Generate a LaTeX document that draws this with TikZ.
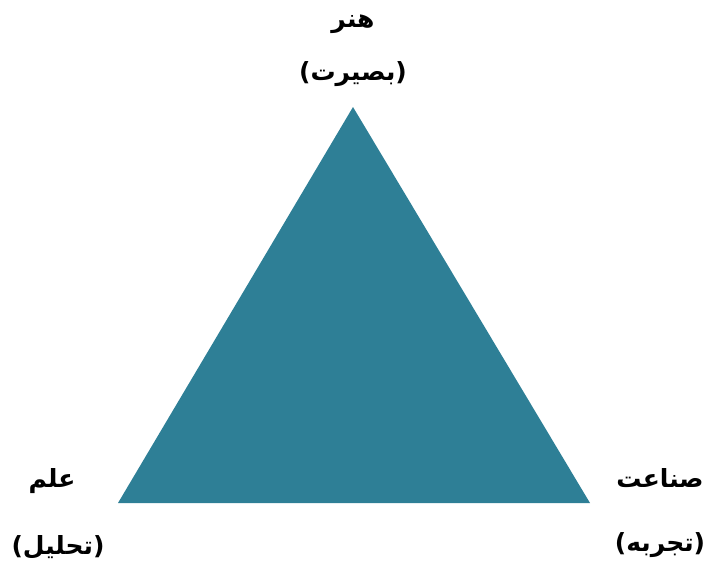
\documentclass[tikz,border=0pt]{standalone}
\usepackage{fontspec}
\TeXXeTstate=1
\newfontfamily\arabicfont[Script=Arabic]{DejaVu Sans}
\definecolor{teal}{RGB}{46,127,150}
\tikzset{lbl/.style={inner sep=0pt, font=\arabicfont\bfseries\fontsize{25}{28}\selectfont, text=black}}
\begin{document}
\begin{tikzpicture}[x=1pt,y=-1pt]
\useasboundingbox (0,0) rectangle (705,571);
\coordinate (A) at (353,107);
\coordinate (B) at (118,503);
\coordinate (C) at (590,503);
\fill[teal] (A) -- (B) -- (C) -- cycle;
\node[lbl] (t1) at (353,24) {\beginR هنر\endR};
\node[lbl] (t2) at (353,74) {\beginR (بصیرت)\endR};
\node[lbl] (l1) at (52,481) {\beginR علم\endR};
\node[lbl] (l2) at (58,547) {\beginR (تحلیل)\endR};
\node[lbl] (r1) at (660,478) {\beginR صناعت\endR};
\node[lbl] (r2) at (660,545) {\beginR (تجربه)\endR};
\end{tikzpicture}
\end{document}
